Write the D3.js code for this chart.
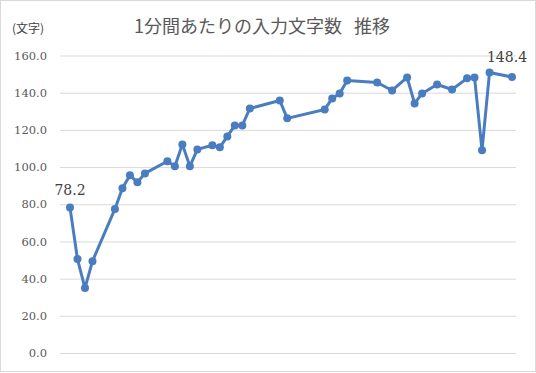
<!DOCTYPE html>
<html><head><meta charset="utf-8">
<script src="https://cdn.jsdelivr.net/npm/d3@7"></script>
<style>
html,body{margin:0;padding:0;background:#fff;}
svg{display:block;}
</style></head>
<body>
<svg id="c" width="536" height="373"></svg>
<script>
const title = "1分間あたりの入力文字数\u00a0\u00a0\u00a0推移";
const unitLabel = "(文字)";
const days = [0,1,2,3,6,7,8,9,10,13,14,15,16,17,19,20,21,22,23,24,28,29,34,35,36,37,41,43,45,46,47,49,51,53,54,55,56,59];
const values = [78.2,50.5,34.9,49.4,77.5,88.6,95.6,91.8,96.6,103.1,100.4,112.2,100.4,109.5,111.7,110.6,116.5,122.4,122.4,131.5,135.8,126.2,131.0,136.9,139.6,146.6,145.5,141.2,148.2,134.2,139.6,144.4,141.7,147.7,148.2,109.0,150.9,148.4];
const yTicks = [0,20,40,60,80,100,120,140,160];

const svg = d3.select("#c");
svg.append("rect").attr("x",0.5).attr("y",0.5).attr("width",535).attr("height",371)
  .attr("fill","#fff").attr("stroke","#d9d9d9");

const x = d3.scaleLinear().domain([0,59]).range([70,512]);
const y = d3.scaleLinear().domain([0,160]).range([353,55.5]);

const yAxis = d3.axisLeft(y).tickValues(yTicks).tickFormat(d3.format(".1f")).tickSize(-456).tickPadding(13);
const ga = svg.append("g").attr("transform","translate(60,0)").call(yAxis);
ga.select(".domain").remove();
ga.selectAll(".tick line").attr("stroke","#d9d9d9").attr("stroke-width",1);
ga.selectAll(".tick text").attr("fill","#595959").attr("font-family","'DejaVu Serif', serif").attr("font-size","11.5px");

const data = days.map((d,i)=>({d, v: values[i]}));
const line = d3.line().x(p=>x(p.d)).y(p=>y(p.v));
svg.append("path").datum(data).attr("d",line).attr("fill","none")
  .attr("stroke","#4a7dc0").attr("stroke-width",3).attr("stroke-linejoin","round");
svg.append("g").selectAll("circle").data(data).join("circle")
  .attr("cx",p=>x(p.d)).attr("cy",p=>y(p.v)).attr("r",4).attr("fill","#4a7dc0");

const first = data[0], last = data[data.length-1];
svg.append("text").attr("x",x(first.d)).attr("y",y(first.v)-13).attr("text-anchor","middle")
  .attr("fill","#404040").attr("font-family","'DejaVu Serif', serif").attr("font-size","14px")
  .text(d3.format(".1f")(first.v));
svg.append("text").attr("x",x(last.d)-5).attr("y",y(last.v)-15).attr("text-anchor","middle")
  .attr("fill","#404040").attr("font-family","'DejaVu Serif', serif").attr("font-size","14px")
  .text(d3.format(".1f")(last.v));

svg.append("text").attr("x",262).attr("y",33).attr("text-anchor","middle")
  .attr("fill","#595959").attr("font-family","'Noto Sans CJK JP', sans-serif").attr("font-size","18px")
  .text(title);
svg.append("text").attr("x",12).attr("y",33)
  .attr("fill","#404040").attr("font-family","'Noto Sans CJK JP', sans-serif").attr("font-size","12px")
  .text(unitLabel);
</script>
</body></html>
